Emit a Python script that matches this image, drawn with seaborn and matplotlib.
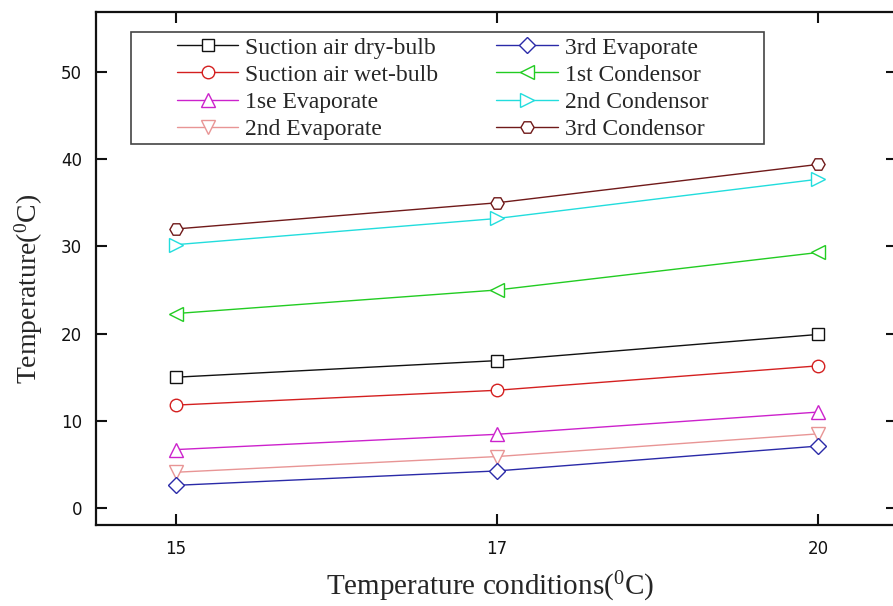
import matplotlib
matplotlib.use("Agg")
import matplotlib.pyplot as plt
import seaborn as sns
import pandas as pd
from matplotlib.patches import Rectangle

# ---- data ----
conditions = ["15", "17", "20"]
dry_bulb = [15.0, 16.9, 19.9]
wet_bulb = [11.8, 13.5, 16.3]
evap1 = [6.7, 8.45, 11.0]
evap2 = [4.1, 5.9, 8.5]
evap3 = [2.6, 4.25, 7.1]
cond1 = [22.3, 25.0, 29.3]
cond2 = [30.2, 33.2, 37.7]
cond3 = [32.0, 35.0, 39.4]

series_names = ["Suction air dry-bulb", "Suction air wet-bulb", "1se Evaporate",
                "2nd Evaporate", "3rd Evaporate", "1st Condensor",
                "2nd Condensor", "3rd Condensor"]
series_values = [dry_bulb, wet_bulb, evap1, evap2, evap3, cond1, cond2, cond3]
colors = ["#111111", "#d42020", "#cc22cc", "#e89595", "#2a2aa8",
          "#22cc22", "#22dddd", "#701a1a"]
markers = ["s", "o", "^", "v", "D", "<", ">", "H"]
msizes = [8, 9, 10, 10, 8.5, 10, 10, 9.5]

sns.set_style("ticks")
plt.rcParams["font.family"] = ["Liberation Serif", "DejaVu Serif"]
plt.rcParams["mathtext.fontset"] = "custom"
plt.rcParams["mathtext.rm"] = "Liberation Serif"
plt.rcParams["mathtext.it"] = "Liberation Serif"

fig = plt.figure(figsize=(8.93, 6.06), dpi=100)
ax = fig.add_axes([96/893, 1-525/606, (897-96)/893, (525-12)/606])

for name, vals, c, m, ms in zip(series_names, series_values, colors, markers, msizes):
    df = pd.DataFrame({"cond": conditions, "temp": vals})
    sns.lineplot(data=df, x="cond", y="temp", ax=ax, color=c, marker=m,
                 markersize=ms, markerfacecolor="white", markeredgecolor=c,
                 markeredgewidth=1.0, linewidth=1.0, label=name, sort=False)

ax.set_xlim((96-176)/321, (897-176)/321)
ax.set_ylim(-1.95, 56.88)
ax.set_yticks([0, 10, 20, 30, 40, 50])

for s in ax.spines.values():
    s.set_linewidth(1.6)
    s.set_color("#111111")
ax.tick_params(direction="in", length=8, width=1.5, top=True, right=True,
               labelsize=12, colors="#111111", pad=10)
for lab in ax.get_xticklabels() + ax.get_yticklabels():
    lab.set_fontfamily("DejaVu Sans")
ax.tick_params(axis="x", pad=11)

ax.set_xlabel(r"Temperature conditions($^{0}$C)", fontsize=21)
ax.set_ylabel(r"Temperature($^{0}$C)", fontsize=20)
ax.xaxis.set_label_coords(0.492, -0.087)
ax.yaxis.set_label_coords(-0.064, 0.46)

# legend box
x0 = (131-96)/801
x1 = (764-96)/801
y0 = (525-144)/513
y1 = (525-32)/513
ax.add_patch(Rectangle((x0, y0), x1-x0, y1-y0, transform=ax.transAxes,
                       fill=True, facecolor="white", edgecolor="#444444",
                       linewidth=1.2, zorder=4))
leg = ax.legend(loc="upper left", bbox_to_anchor=((177-96)/801, (525-37)/513),
                ncol=2, frameon=False, fontsize=17, handlelength=2.6,
                handletextpad=0.3, columnspacing=2.45, labelspacing=0.24,
                borderpad=0, borderaxespad=0)
leg.set_zorder(5)

fig.savefig("out.png", dpi=100)
